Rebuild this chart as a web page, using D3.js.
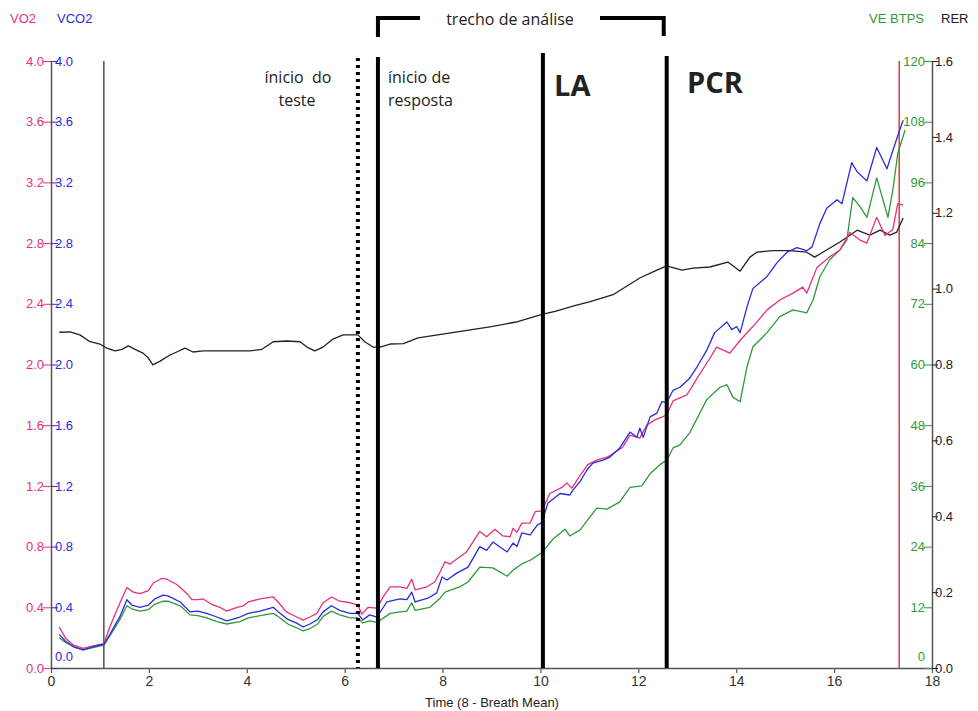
<!DOCTYPE html>
<html>
<head>
<meta charset="utf-8">
<script src="https://cdn.jsdelivr.net/npm/d3@7"></script>
<style>
  html, body { margin: 0; padding: 0; background: #fff; }
  svg { display: block; }
  .ax text { font-family: "Liberation Sans", Arial, sans-serif; font-size: 13px; }
</style>
</head>
<body>
<svg id="chart" width="978" height="711"></svg>
<script>
// ---------- DATA ----------
const vo2Time = [0.17,0.29,0.46,0.66,0.86,1.08,1.2,1.41,1.55,1.68,1.82,1.99,2.09,2.26,2.37,2.57,2.78,2.88,3.0,3.11,3.28,3.45,3.59,3.8,3.93,4.03,4.27,4.54,4.64,4.81,5.02,5.15,5.29,5.43,5.56,5.73,5.9,6.11,6.27,6.35,6.48,6.66,6.79,6.93,7.13,7.27,7.37,7.44,7.68,7.84,7.95,8.05,8.15,8.49,8.76,8.9,9.07,9.23,9.38,9.44,9.52,9.62,9.79,9.89,10.03,10.19,10.44,10.54,10.64,10.81,10.97,11.15,11.36,11.42,11.68,11.83,12.03,12.17,12.34,12.58,12.71,12.99,13.05,13.22,13.4,13.6,13.87,14.08,14.34,14.63,14.89,15.16,15.36,15.44,15.65,15.91,16.12,16.32,16.53,16.67,16.87,17.04,17.2,17.3,17.41];
const vo2 = [0.27,0.20,0.15,0.13,0.145,0.16,0.27,0.43,0.53,0.50,0.49,0.51,0.56,0.59,0.585,0.55,0.49,0.45,0.45,0.455,0.42,0.40,0.375,0.40,0.41,0.435,0.455,0.468,0.435,0.37,0.336,0.316,0.336,0.36,0.43,0.468,0.44,0.43,0.415,0.355,0.40,0.395,0.47,0.535,0.535,0.525,0.585,0.515,0.535,0.567,0.633,0.70,0.685,0.765,0.90,0.865,0.915,0.87,0.865,0.92,0.895,0.955,0.955,1.03,1.035,1.15,1.19,1.22,1.185,1.27,1.34,1.37,1.39,1.40,1.455,1.535,1.515,1.60,1.635,1.667,1.76,1.80,1.83,1.92,2.01,2.115,2.075,2.16,2.25,2.36,2.425,2.47,2.51,2.47,2.64,2.71,2.755,2.87,2.82,2.80,2.97,2.85,2.89,3.06,3.05];

const vco2Time = [0.17,0.29,0.46,0.66,0.86,1.08,1.2,1.41,1.55,1.65,1.82,1.99,2.12,2.29,2.39,2.64,2.84,3.0,3.18,3.39,3.59,3.86,4.03,4.27,4.54,4.64,4.84,5.02,5.15,5.29,5.45,5.56,5.73,5.9,6.11,6.27,6.37,6.51,6.66,6.86,7.13,7.27,7.37,7.44,7.7,7.88,7.99,8.09,8.29,8.52,8.76,8.9,9.03,9.32,9.44,9.52,9.62,9.79,9.93,10.03,10.15,10.4,10.6,10.66,10.81,10.95,11.07,11.28,11.42,11.62,11.83,11.97,12.03,12.1,12.24,12.38,12.48,12.58,12.71,12.85,13.05,13.2,13.4,13.56,13.81,13.91,14.01,14.08,14.22,14.34,14.63,14.83,15.04,15.24,15.44,15.55,15.71,15.85,16.06,16.16,16.36,16.47,16.67,16.87,17.08,17.2,17.34,17.41];
const vco2 = [0.22,0.18,0.14,0.12,0.14,0.155,0.22,0.34,0.45,0.415,0.40,0.415,0.455,0.48,0.475,0.435,0.37,0.375,0.36,0.336,0.31,0.336,0.36,0.375,0.40,0.37,0.32,0.296,0.27,0.29,0.32,0.37,0.41,0.38,0.36,0.36,0.316,0.35,0.336,0.435,0.455,0.45,0.50,0.435,0.46,0.495,0.60,0.58,0.625,0.665,0.80,0.775,0.83,0.765,0.823,0.80,0.89,0.877,0.94,0.96,1.085,1.15,1.14,1.17,1.23,1.305,1.35,1.37,1.39,1.45,1.555,1.52,1.58,1.52,1.655,1.68,1.755,1.75,1.83,1.85,1.91,1.985,2.095,2.21,2.28,2.23,2.25,2.21,2.38,2.50,2.58,2.67,2.74,2.77,2.75,2.775,2.93,3.03,3.085,3.06,3.33,3.27,3.21,3.43,3.29,3.41,3.545,3.61];

const veTime = [0.17,0.29,0.46,0.66,0.86,1.08,1.2,1.41,1.55,1.65,1.82,1.99,2.12,2.29,2.39,2.64,2.84,3.0,3.18,3.39,3.59,3.86,4.03,4.27,4.54,4.64,4.84,5.02,5.15,5.29,5.45,5.56,5.73,5.9,6.11,6.27,6.37,6.51,6.66,6.93,7.13,7.27,7.37,7.44,7.74,7.95,8.05,8.35,8.52,8.76,9.03,9.32,9.44,9.64,9.79,10.03,10.26,10.5,10.6,10.81,11.15,11.36,11.62,11.83,12.07,12.24,12.44,12.58,12.71,12.85,13.05,13.4,13.67,13.81,13.93,14.08,14.22,14.34,14.63,14.89,15.16,15.44,15.57,15.71,15.91,16.12,16.26,16.38,16.53,16.67,16.87,17.1,17.2,17.3,17.45];
const ve = [6.0,5.1,4.2,3.6,4.05,4.5,6.3,9.6,12.3,11.7,11.25,11.55,12.6,13.2,13.2,12.3,10.5,10.35,9.9,9.15,8.7,9.15,9.9,10.35,10.8,10.2,8.7,7.95,7.35,7.8,8.7,10.2,11.25,10.5,9.9,9.9,8.9,9.3,9.0,10.8,11.1,11.25,12.9,11.4,12.0,13.8,15.0,16.05,17.0,19.95,19.8,18.15,19.35,20.7,21.3,22.8,25.5,27.45,26.1,27.3,31.6,31.4,32.85,35.7,36.0,38.4,40.2,41.1,43.5,44.1,46.5,53.1,55.5,56.0,53.55,52.65,59.55,63.45,66.3,69.45,70.8,70.2,72.75,77.4,80.7,82.65,84.6,93.0,91.2,89.1,96.9,89.1,94.5,101.7,106.35];

const rerTime = [0.17,0.39,0.59,0.8,1.0,1.14,1.31,1.45,1.58,1.75,1.88,1.99,2.08,2.23,2.43,2.57,2.74,2.9,3.11,4.07,4.31,4.54,4.82,5.09,5.23,5.39,5.56,5.76,5.97,6.27,6.41,6.58,6.72,6.93,7.2,7.5,8.0,8.5,9.0,9.5,10.05,10.3,10.7,11.0,11.5,12.03,12.3,12.58,12.89,13.12,13.46,13.83,14.08,14.28,14.42,14.75,15.1,15.44,15.6,15.77,16.12,16.47,16.73,16.94,17.14,17.28,17.41];
const rer = [0.885,0.886,0.878,0.86,0.854,0.843,0.836,0.84,0.849,0.838,0.83,0.817,0.799,0.809,0.825,0.833,0.843,0.833,0.836,0.836,0.84,0.86,0.862,0.86,0.846,0.836,0.846,0.867,0.878,0.878,0.86,0.846,0.846,0.854,0.855,0.87,0.88,0.89,0.90,0.912,0.933,0.94,0.955,0.965,0.985,1.028,1.044,1.06,1.049,1.054,1.057,1.07,1.046,1.083,1.096,1.10,1.10,1.096,1.083,1.096,1.123,1.154,1.141,1.154,1.141,1.149,1.186];

const xTicks = [0,2,4,6,8,10,12,14,16,18];
const gasTicks = [0,0.4,0.8,1.2,1.6,2.0,2.4,2.8,3.2,3.6,4.0];
const veTicks = [0,12,24,36,48,60,72,84,96,108,120];
const rerTicks = [0,0.2,0.4,0.6,0.8,1.0,1.2,1.4,1.6];

// event markers (time in minutes)
const markerWarmup = 1.08;
const markerTestStart = 6.27;
const markerResponse = 6.68;
const markerLA = 10.05;
const markerPCR = 12.58;
const markerEnd = 17.33;

// ---------- LAYOUT ----------
const svg = d3.select("#chart");
const L = 51, R = 932, T = 61, B = 668;
const pink = "#e8307e", blue = "#2b2bd9", green = "#2f9a3a", dark = "#222", axisCol = "#555";

const x = d3.scaleLinear().domain([0, 18]).range([L, R]);
const yGas = d3.scaleLinear().domain([0, 4]).range([B, T]);
const yVE = d3.scaleLinear().domain([0, 120]).range([B, T]);
const yRER = d3.scaleLinear().domain([0, 1.6]).range([B, T]);

// ---------- AXES ----------
const fmt1 = d3.format(".1f");

// x axis
const gx = svg.append("g").attr("class", "ax").attr("transform", `translate(0,${B})`)
  .call(d3.axisBottom(x).tickValues(xTicks).tickFormat(d3.format("d")).tickSize(5).tickSizeOuter(0).tickPadding(3));
gx.select(".domain").attr("stroke", axisCol).attr("stroke-width", 1.5);
gx.selectAll(".tick line").attr("stroke", axisCol).attr("stroke-width", 1.2);
gx.selectAll(".tick text").attr("fill", "#333").style("font-size", "14px");

svg.append("text").attr("x", 492).attr("y", 707).attr("text-anchor", "middle")
  .style("font-family", "Liberation Sans, Arial, sans-serif").style("font-size", "13px").attr("fill", "#222")
  .text("Time (8 - Breath Mean)");

// left: VO2 (pink labels, left of axis)
const gL1 = svg.append("g").attr("class", "ax").attr("transform", `translate(${L},0)`)
  .call(d3.axisLeft(yGas).tickValues(gasTicks).tickFormat(fmt1).tickSize(8).tickSizeOuter(0).tickPadding(-1));
gL1.select(".domain").attr("stroke", axisCol).attr("stroke-width", 1.5);
gL1.selectAll(".tick line").attr("stroke", pink);
gL1.selectAll(".tick text").attr("fill", pink);

// left: VCO2 (blue labels, right of axis)
const gL2 = svg.append("g").attr("class", "ax").attr("transform", `translate(${L},0)`)
  .call(d3.axisRight(yGas).tickValues(gasTicks).tickFormat(fmt1).tickSize(7).tickSizeOuter(0).tickPadding(-3));
gL2.select(".domain").remove();
gL2.selectAll(".tick line").attr("stroke", blue);
gL2.selectAll(".tick text").attr("fill", blue).attr("dy", d => d === 0 ? "-0.55em" : "0.32em");

// right: VE (green labels, left of axis)
const gR1 = svg.append("g").attr("class", "ax").attr("transform", `translate(${R},0)`)
  .call(d3.axisLeft(yVE).tickValues(veTicks).tickFormat(d3.format("d")).tickSize(8).tickSizeOuter(0).tickPadding(-1));
gR1.select(".domain").attr("stroke", axisCol).attr("stroke-width", 1.5);
gR1.selectAll(".tick line").attr("stroke", green);
gR1.selectAll(".tick text").attr("fill", green).attr("dy", d => d === 0 ? "-0.55em" : "0.32em");

// right: RER (black labels, right of axis)
const gR2 = svg.append("g").attr("class", "ax").attr("transform", `translate(${R},0)`)
  .call(d3.axisRight(yRER).tickValues(rerTicks).tickFormat(fmt1).tickSize(6).tickSizeOuter(0).tickPadding(-3));
gR2.select(".domain").remove();
gR2.selectAll(".tick line").attr("stroke", dark);
gR2.selectAll(".tick text").attr("fill", dark);

// axis titles
const titleFont = "Liberation Sans, Arial, sans-serif";
[["VO2", 10, pink, "start"], ["VCO2", 57, blue, "start"], ["VE BTPS", 924, green, "end"], ["RER", 941, dark, "start"]]
  .forEach(([t, px, c, a]) => svg.append("text").attr("x", px).attr("y", 23).attr("text-anchor", a)
    .style("font-family", titleFont).style("font-size", "13px").attr("fill", c).text(t));

// ---------- MARKER LINES ----------
svg.append("line").attr("x1", x(markerWarmup)).attr("x2", x(markerWarmup)).attr("y1", T).attr("y2", B)
  .attr("stroke", "#333").attr("stroke-width", 1.3);
svg.append("line").attr("x1", x(markerEnd)).attr("x2", x(markerEnd)).attr("y1", T).attr("y2", B)
  .attr("stroke", "#e03a3a").attr("stroke-width", 1.5);

// ---------- SERIES ----------
function drawSeries(tArr, vArr, yScale, color) {
  const pts = tArr.map((t, i) => [t, vArr[i]]);
  svg.append("path").datum(pts)
    .attr("fill", "none").attr("stroke", color).attr("stroke-width", 1.3).attr("stroke-linejoin", "round")
    .attr("d", d3.line().x(d => x(d[0])).y(d => yScale(d[1])));
}
drawSeries(rerTime, rer, yRER, dark);
drawSeries(veTime, ve, yVE, green);
drawSeries(vo2Time, vo2, yGas, pink);
drawSeries(vco2Time, vco2, yGas, blue);

// thick annotation lines
svg.append("line").attr("x1", x(markerTestStart)).attr("x2", x(markerTestStart)).attr("y1", 58).attr("y2", B)
  .attr("stroke", "#000").attr("stroke-width", 4).attr("stroke-dasharray", "3,4");
[[markerResponse, 57], [markerLA, 53], [markerPCR, 56]].forEach(([t, top]) =>
  svg.append("line").attr("x1", x(t)).attr("x2", x(t)).attr("y1", top).attr("y2", B)
    .attr("stroke", "#000").attr("stroke-width", 4));

// bracket "trecho de análise"
svg.append("path").attr("fill", "none").attr("stroke", "#000").attr("stroke-width", 4)
  .attr("d", `M${x(markerResponse)},37 V18 H420`);
svg.append("path").attr("fill", "none").attr("stroke", "#000").attr("stroke-width", 4)
  .attr("d", `M600,18 H${x(markerPCR) - 3} V36`);

const annFont = "'Open Sans', 'DejaVu Sans', sans-serif";
function ann(t, px, py, size, weight, anchor) {
  svg.append("text").attr("x", px).attr("y", py).attr("text-anchor", anchor || "start")
    .style("font-family", annFont).style("font-size", size + "px").style("font-weight", weight || "normal")
    .style("white-space", "pre").attr("fill", "#222").text(t);
}
ann("trecho de análise", 510, 25, 16, "normal", "middle");
ann("ínicio  do", 298, 83, 16, "normal", "middle");
ann("teste", 297, 106, 16, "normal", "middle");
ann("ínicio de", 388, 83, 16);
ann("resposta", 388, 106, 16);
ann("LA", 554, 96, 29, "bold");
ann("PCR", 687, 93, 29, "bold");
</script>
</body>
</html>
